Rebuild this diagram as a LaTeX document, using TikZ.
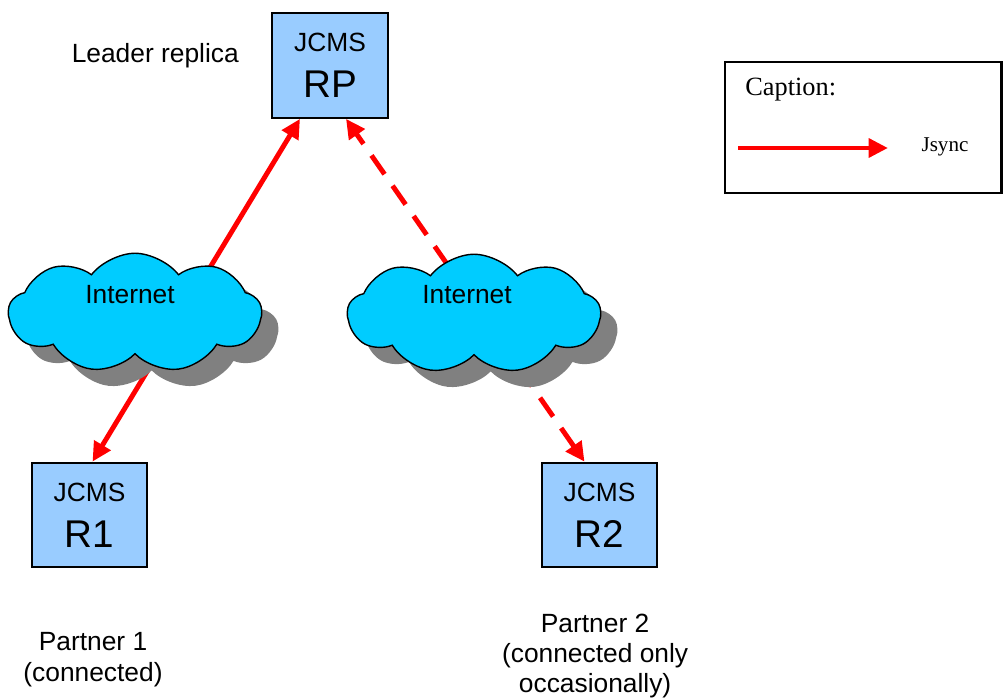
\documentclass[tikz,border=0pt]{standalone}
\usepackage{fontspec}
\setmainfont{Liberation Sans}
\newfontfamily\capfont{Liberation Serif}
\usepackage{xcolor}
\usepackage{tikz}
\usetikzlibrary{calc, positioning, arrows.meta, shapes.symbols, shadows}

\definecolor{boxblue}{HTML}{99CCFF}
\definecolor{netcyan}{HTML}{00CCFF}
\definecolor{shadowgray}{HTML}{808080}
\definecolor{syncred}{HTML}{FF0000}

\begin{document}
\begin{tikzpicture}[x=0.02cm, y=-0.02cm,
    >={Triangle[length=11pt,width=10.5pt]},
    jcms/.style={draw=black, line width=1.2pt, fill=boxblue, minimum width=65.8pt, minimum height=59.5pt, inner sep=0, align=center, font=\fontsize{15}{26}\selectfont},
    net/.style={cloud, cloud puffs=9, cloud puff arc=105, aspect=2.1, draw=black, line width=0.8pt, fill=netcyan, minimum width=144pt, minimum height=68pt, drop shadow={shadow xshift=9.5pt, shadow yshift=-9.5pt, fill=shadowgray, opacity=1}},
    sync/.style={draw=syncred, line width=2.8pt},
    plain/.style={font=\fontsize{15}{17}\selectfont, align=center, inner sep=0}]
    \useasboundingbox (0,0) rectangle (1003,699);

    % replicas
    \node[jcms] (rp) at (330,65.5) {JCMS\\{\fontsize{22}{26}\selectfont RP}};
    \node[jcms] (r1) at (89.5,515) {JCMS\\{\fontsize{22}{26}\selectfont R1}};
    \node[jcms] (r2) at (599.5,515) {JCMS\\{\fontsize{22}{26}\selectfont R2}};

    % lines and text
    \node[plain, anchor=east] (leader) at ($(rp.west)+(-32,-10)$) {Leader replica};
    \node[plain, below=36pt of r1, xshift=2pt, font=\fontsize{15}{18}\selectfont] (p1) {Partner 1\\(connected)};
    \node[plain, below=26pt of r2, xshift=-2.5pt] (p2) {Partner 2\\(connected only\\occasionally)};

    % jsync, partner 1 always, partner 2 only now and then
    \draw[sync, <->] ($(r1.north)+(3,0)$) -- ($(rp.south)+(-30,0)$);
    \draw[sync, <->, dash pattern=on 13pt off 8pt] ($(r2.north)+(-15,0)$) -- ($(rp.south)+(16,0)$);

    % internet clouds, over the lines
    \node[net] (net1) at (135,313) {};
    \node[plain] (net1lab) at ($(net1)+(-5,-18)$) {Internet};
    \node[net] (net2) at (474,314) {};
    \node[plain] (net2lab) at ($(net2)+(-7,-19)$) {Internet};

    % caption
    \node[draw=black, line width=1.2pt, minimum width=157.6pt, minimum height=74.3pt, inner sep=0] (legend) at (863,127.5) {};
    \node[inner sep=0, anchor=west, font=\capfont\fontsize{15}{18}\selectfont] (captxt) at (745,90) {Caption:};
    \coordinate (lgfrom) at (738,148);
    \coordinate (lgto) at (888,148);
    \draw[sync, ->] (lgfrom) -- (lgto);
    \node[inner sep=0, font=\capfont\fontsize{12}{14}\selectfont] (jsync) at (945,147) {Jsync};
\end{tikzpicture}
\end{document}
